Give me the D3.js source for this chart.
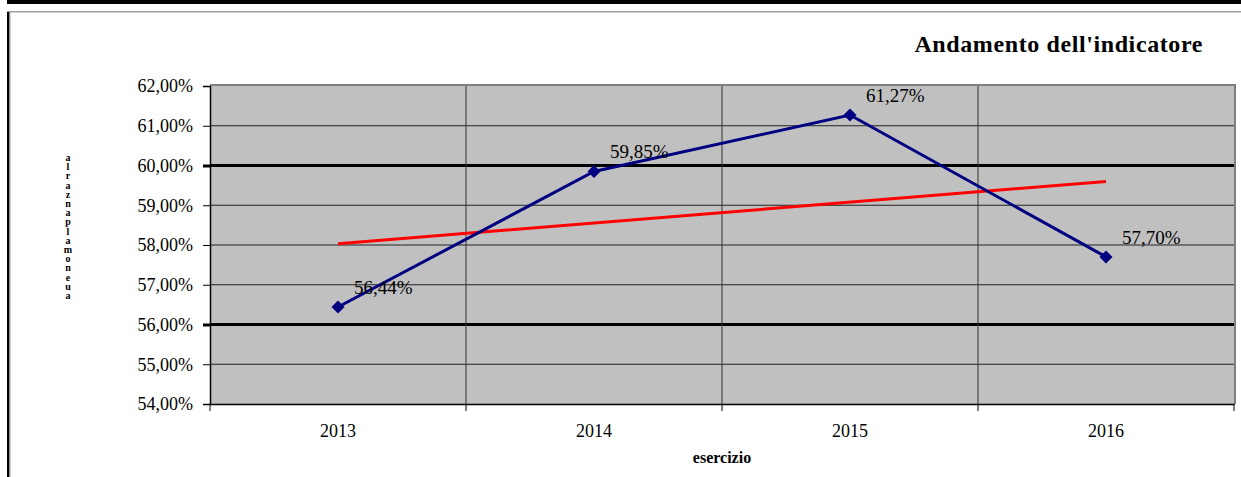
<!DOCTYPE html>
<html>
<head>
<meta charset="utf-8">
<script src="https://cdn.jsdelivr.net/npm/d3@7"></script>
<style>
  body { margin: 0; background: #fff; }
  svg text { font-family: "Liberation Serif", "Times New Roman", Times, "DejaVu Serif", serif; }
</style>
</head>
<body>
<script>
(function(){

	var years = ["2013", "2014", "2015", "2016"];
	var values = [56.44, 59.85, 61.27, 57.70];
	var trendValues = [58.03, 59.60];          // red trend line, first and last year
	var yTicks = [54, 55, 56, 57, 58, 59, 60, 61, 62];
	var thickLines = [60, 56];
	var yLabel = "alraznaplamoneua";

	const W = 1241, H = 477;
	const PLOT = { left: 210, right: 1234, top: 86, bottom: 404 };
	const NAVY = "#000080";
	const SERIF = "'Liberation Serif', 'Times New Roman', Times, 'DejaVu Serif', serif";

	var fmt = function(v){ return v.toFixed(2).replace(".", ",") + "%"; };

	var svg = d3.select("body").append("svg")
		.attr("width", W).attr("height", H);

	// outer frame
	svg.append("rect").attr("x", 7).attr("y", 0).attr("width", W - 7).attr("height", 4).attr("fill", "#000");
	svg.append("rect").attr("x", 7).attr("y", 11).attr("width", W - 7).attr("height", 1.5).attr("fill", "#a0a0a0");
	svg.append("rect").attr("x", 7).attr("y", 12).attr("width", 2.5).attr("height", H - 12).attr("fill", "#000");
	svg.append("rect").attr("x", 9.5).attr("y", 12).attr("width", 1).attr("height", H - 12).attr("fill", "#a0a0a0");

	var x = d3.scaleBand().domain(years).range([PLOT.left, PLOT.right]);
	var y = d3.scaleLinear().domain([54, 62]).range([PLOT.bottom, PLOT.top]);

	// plot background + shadow
	svg.append("rect")
		.attr("x", PLOT.left).attr("y", PLOT.top - 2)
		.attr("width", PLOT.right - PLOT.left + 2).attr("height", PLOT.bottom - PLOT.top + 2)
		.attr("fill", "#808080");
	svg.append("rect")
		.attr("x", PLOT.left).attr("y", PLOT.top)
		.attr("width", PLOT.right - PLOT.left).attr("height", PLOT.bottom - PLOT.top)
		.attr("fill", "#c0c0c0");

	// horizontal grid
	svg.append("g").selectAll("line").data(yTicks.filter(function(d){ return d > 54 && d < 62; })).enter()
		.append("line")
		.attr("x1", PLOT.left).attr("x2", PLOT.right)
		.attr("y1", function(d){ return y(d); }).attr("y2", function(d){ return y(d); })
		.attr("stroke", function(d){ return thickLines.indexOf(d) >= 0 ? "#000" : "#222"; })
		.attr("stroke-width", function(d){ return thickLines.indexOf(d) >= 0 ? 3 : 1; });

	// vertical grid
	svg.append("g").selectAll("line").data(years.slice(1)).enter()
		.append("line")
		.attr("x1", function(d){ return x(d); }).attr("x2", function(d){ return x(d); })
		.attr("y1", PLOT.top).attr("y2", PLOT.bottom)
		.attr("stroke", "#333").attr("stroke-width", 1);

	// y axis
	var yAxis = svg.append("g")
		.attr("transform", "translate(" + PLOT.left + ",0)")
		.call(d3.axisLeft(y).tickValues(yTicks).tickFormat(fmt).tickSize(7).tickPadding(10));
	yAxis.attr("font-family", null);
	yAxis.select(".domain").attr("stroke", "#000").attr("stroke-width", 1.5);
	yAxis.selectAll(".tick line").attr("stroke", "#000")
		.attr("stroke-width", function(d){ return thickLines.indexOf(d) >= 0 ? 3 : 1; });
	yAxis.selectAll("text").style("font-family", SERIF).attr("font-size", 18).attr("fill", "#000");

	// x axis
	var xAxis = svg.append("g")
		.attr("transform", "translate(0," + PLOT.bottom + ")")
		.call(d3.axisBottom(x).tickSize(0).tickPadding(20));
	xAxis.attr("font-family", null);
	xAxis.select(".domain").attr("stroke", "#000").attr("stroke-width", 1.5);
	xAxis.selectAll("text").style("font-family", SERIF).attr("font-size", 18).attr("fill", "#000");
	// category boundary ticks
	svg.append("g").selectAll("line").data(years.concat(["end"])).enter()
		.append("line")
		.attr("x1", function(d, i){ return i < years.length ? x(d) : PLOT.right; })
		.attr("x2", function(d, i){ return i < years.length ? x(d) : PLOT.right; })
		.attr("y1", PLOT.bottom).attr("y2", PLOT.bottom + 7)
		.attr("stroke", "#000").attr("stroke-width", 1);

	var cx = function(d){ return x(d) + x.bandwidth() / 2; };

	// trend line
	svg.append("line")
		.attr("x1", cx(years[0])).attr("y1", y(trendValues[0]))
		.attr("x2", cx(years[years.length - 1])).attr("y2", y(trendValues[1]))
		.attr("stroke", "#ff0000").attr("stroke-width", 3);

	// data line
	var line = d3.line()
		.x(function(d, i){ return cx(years[i]); })
		.y(function(d){ return y(d); });
	svg.append("path").datum(values)
		.attr("d", line).attr("fill", "none")
		.attr("stroke", NAVY).attr("stroke-width", 3);

	svg.append("g").selectAll("path").data(values).enter()
		.append("path")
		.attr("d", d3.symbol().type(d3.symbolSquare).size(85))
		.attr("transform", function(d, i){ return "translate(" + cx(years[i]) + "," + y(d) + ") rotate(45)"; })
		.attr("fill", NAVY);

	// data labels
	svg.append("g").selectAll("text").data(values).enter()
		.append("text")
		.attr("x", function(d, i){ return cx(years[i]) + 16; })
		.attr("y", function(d){ return y(d) - 13; })
		.style("font-family", SERIF)
		.attr("font-size", 19).attr("fill", "#000")
		.text(fmt);

	// title
	svg.append("text")
		.attr("x", 1203).attr("y", 52)
		.attr("text-anchor", "end")
		.style("font-family", SERIF)
		.style("letter-spacing", "0.6px")
		.attr("font-size", 24).attr("font-weight", "bold")
		.text("Andamento dell'indicatore");

	// x axis title
	svg.append("text")
		.attr("x", (PLOT.left + PLOT.right) / 2).attr("y", 463)
		.attr("text-anchor", "middle")
		.style("font-family", SERIF)
		.attr("font-size", 16).attr("font-weight", "bold")
		.text("esercizio");

	// y axis title, letters stacked upright
	svg.append("text")
		.attr("x", 68).attr("y", 152)
		.style("font-family", SERIF)
		.style("writing-mode", "vertical-rl")
		.style("text-orientation", "upright")
		.style("letter-spacing", "-1.8px")
		.attr("font-size", 10).attr("font-weight", "bold")
		.text(yLabel);

})();
</script>
</body>
</html>
